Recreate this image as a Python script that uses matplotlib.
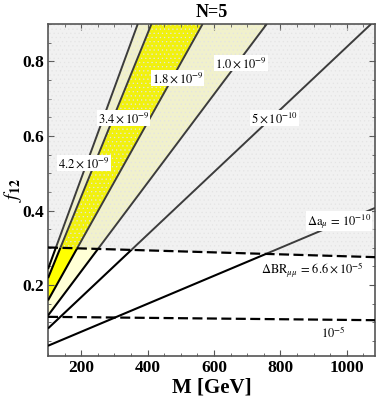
import numpy as np
import matplotlib
matplotlib.use("Agg")
import matplotlib.pyplot as plt
from matplotlib.patches import Polygon
from matplotlib.ticker import MultipleLocator

plt.rcParams['font.family'] = ['Liberation Serif', 'DejaVu Serif']
plt.rcParams['mathtext.fontset'] = 'stix'
plt.rcParams['hatch.linewidth'] = 0.4

# contour levels of Delta a_mu and the scale: f = k * M * sqrt(da)
da_levels = [1e-10, 5e-10, 1.0e-9, 1.8e-9, 3.4e-9, 4.2e-9]
k_scale = 37.5
band_levels = [1.0e-9, 1.8e-9, 3.4e-9, 4.2e-9]
band_colors = ['#ffffd6', '#ffff00', '#ffffd6']

# Delta BR_mumu dashed contours (M, f)
M_br = [100, 1085]
f_br66 = [0.301, 0.275]
f_br10 = [0.115, 0.106]

# label text and where it sits (M, f)
labels = [r'$1.0\times10^{-9}$', r'$1.8\times10^{-9}$', r'$3.4\times10^{-9}$',
          r'$5\times10^{-10}$', r'$4.2\times10^{-9}$', r'$\Delta\mathrm{a}_{\mu}\,=\,10^{-10}$',
          r'$\Delta\mathrm{BR}_{\mu\mu}\,=\,6.6\times10^{-5}$', r'$10^{-5}$']
label_M = [681, 490, 328, 782, 209, 976, 896, 960]
label_f = [0.795, 0.755, 0.647, 0.647, 0.527, 0.371, 0.240, 0.071]

xmin, xmax, ymin, ymax = 100, 1085, 0.01, 0.9

fig = plt.figure(figsize=(3.82, 4.01), dpi=100)
ax = fig.add_axes([0.1257, 0.1122, 0.8560, 0.8280])

M = np.linspace(xmin, xmax, 400)
F = np.linspace(ymin, ymax, 400)
MM, FF = np.meshgrid(M, F)
Z = (FF / (k_scale * MM)) ** 2

ax.contourf(MM, FF, Z, levels=band_levels, colors=band_colors)

# shaded region above the upper dashed line
up_xy = [(M_br[0], f_br66[0]), (M_br[1], f_br66[1]), (M_br[1], ymax), (M_br[0], ymax)]
lo_xy = [(M_br[0], f_br66[0]), (M_br[1], f_br66[1]), (M_br[1], ymin), (M_br[0], ymin)]
upper = Polygon(up_xy, closed=True, transform=ax.transData)
lower = Polygon(lo_xy, closed=True, transform=ax.transData)
ax.add_patch(Polygon(up_xy, closed=True, facecolor='#808080', alpha=0.11,
                     edgecolor='none', zorder=2))
ax.add_patch(Polygon(up_xy, closed=True, facecolor='none', edgecolor='#e4e4e4',
                     hatch='....', linewidth=0, zorder=2))

cs1 = ax.contour(MM, FF, Z, levels=da_levels, colors='black', linewidths=1.5, zorder=3)
cs1.set_clip_path(lower)
cs2 = ax.contour(MM, FF, Z, levels=da_levels, colors='#3c3c3c', linewidths=1.4, zorder=3)
cs2.set_clip_path(upper)

ax.plot(M_br, f_br66, color='black', lw=1.6, ls=(0, (4.5, 2)), zorder=4)
ax.plot(M_br, f_br10, color='black', lw=1.6, ls=(0, (4.5, 2)), zorder=4)

for t, x, y in zip(labels, label_M, label_f):
    ax.text(x, y, t, fontsize=9, ha='center', va='center', zorder=5,
            bbox=dict(facecolor='white', edgecolor='none', pad=0.5))

ax.set_xlim(xmin, xmax)
ax.set_ylim(ymin, ymax)
ax.xaxis.set_major_locator(MultipleLocator(200))
ax.xaxis.set_minor_locator(MultipleLocator(50))
ax.yaxis.set_major_locator(MultipleLocator(0.2))
ax.yaxis.set_minor_locator(MultipleLocator(0.05))
ax.tick_params(which='both', direction='in', top=True, right=True, color='#555555')
ax.tick_params(which='major', length=4, labelsize=12.5, pad=3)
ax.tick_params(which='minor', length=2)
ax.set_xticks([200, 400, 600, 800, 1000])
ax.set_xticklabels(['200', '400', '600', '800', '1000'], fontweight='bold')
ax.set_yticks([0.2, 0.4, 0.6, 0.8])
ax.set_yticklabels(['0.2', '0.4', '0.6', '0.8'], fontweight='bold')
for s in ax.spines.values():
    s.set_color('#555555')
    s.set_linewidth(1.2)

ax.set_title('N=5', fontsize=13, fontweight='bold', pad=5)
ax.set_xlabel('M [GeV]', fontsize=15, fontweight='bold', labelpad=1)
ax.set_ylabel(r'$f_{\mathbf{12}}$', fontsize=14)
ax.yaxis.set_label_coords(-0.072, 0.5)

fig.savefig('out.png', dpi=100)
